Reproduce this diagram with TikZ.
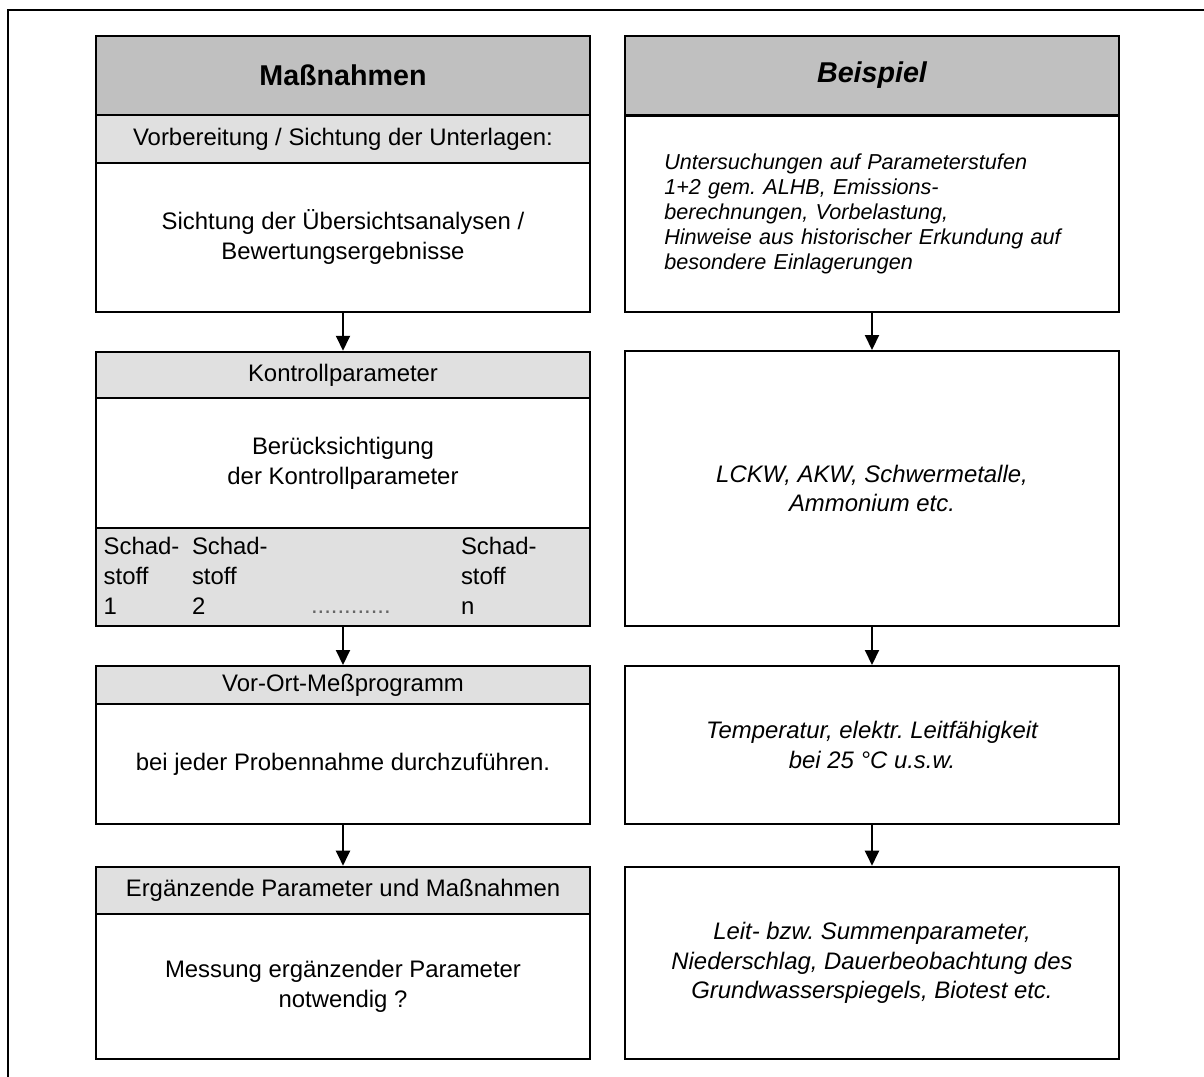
\documentclass[tikz,border=0pt]{standalone}
\usepackage{fontspec}
\setmainfont{Liberation Sans}
\usepackage{tikz}
\usetikzlibrary{arrows.meta}
\definecolor{headgray}{RGB}{192,192,192}
\definecolor{subgray}{RGB}{224,224,224}
\frenchspacing

\begin{document}
\begin{tikzpicture}[x=0.02cm, y=-0.02cm, line width=0.04cm,
        head_style/.style={rectangle,draw,fill=headgray,minimum width=9.87cm,inner sep=0pt,font=\fontsize{16.3}{20}\selectfont\bfseries},
        sub_style/.style={rectangle,draw,fill=subgray,minimum width=9.87cm,inner sep=0pt,font=\fontsize{13.6}{17}\selectfont},
        body_style/.style={rectangle,draw,fill=white,minimum width=9.87cm,inner sep=0pt,align=center,font=\fontsize{13.6}{17}\selectfont},
        example_style/.style={body_style,font=\fontsize{13.6}{16.8}\selectfont\itshape},
        list_style/.style={inner sep=0pt,align=left,anchor=west,font=\fontsize{13.6}{17}\selectfont},
        edge_style/.style={draw=black,line width=0.04cm,-{Triangle[length=0.3cm,width=0.28cm]}},
        frame_style/.style={draw=black,line width=0.04cm}]

        \useasboundingbox (0,0) rectangle (1204,1077);
        \draw [frame_style] (8,1077) -- (8,10) -- (1204,10);

        % left column
        \node [head_style,minimum height=1.59cm](mn_head) at (343,75.5) {Maßnahmen};

        \node [sub_style,minimum height=0.95cm](mn_prep) at (343,139) {Vorbereitung / Sichtung der Unterlagen:};

        \node [body_style,minimum height=2.98cm](mn_view) at (343,237.2) {Sichtung der Übersichtsanalysen /\\Bewertungsergebnisse};

        \node [sub_style,minimum height=0.93cm](kp_head) at (343,375) {Kontrollparameter};

        \node [body_style,minimum height=2.6cm](kp_body) at (343,463.3) {Berücksichtigung\\der Kontrollparameter};

        \node [sub_style,minimum height=1.954cm](kp_list) at (343,577.15) {};

        \node [list_style](st_1) at (102.7,576) {Schad-\\stoff\\1};

        \node [list_style](st_2) at (191,576) {Schad-\\stoff\\2};

        \node [list_style](st_n) at (460,576) {Schad-\\stoff\\n};

        \node [list_style,anchor=base west,text=black!60](st_dots) at (310,613.5) {............};

        \node [sub_style,minimum height=0.766cm](vo_head) at (343,685.15) {Vor-Ort-Meßprogramm};

        \node [body_style,minimum height=2.394cm](vo_body) at (343,764.15) {bei jeder Probennahme durchzuführen.};

        \node [sub_style,minimum height=0.946cm](ep_head) at (343,890.35) {Ergänzende Parameter und Maßnahmen};

        \node [body_style,minimum height=2.906cm](ep_body) at (343,986.65) {Messung ergänzender Parameter\\notwendig ?};

        % right column
        \node [head_style,minimum height=1.59cm,font=\fontsize{16.3}{20}\selectfont\bfseries\itshape](bs_head) at (872,75.5) {Beispiel};

        \node [example_style,minimum height=3.91cm,align=left,text width=8.31cm,inner xsep=0.78cm,font=\fontsize{12.3}{14.2}\selectfont\itshape](bs_prep) at (872,213.85) {Untersuchungen auf Parameterstufen\\1+2 gem. ALHB, Emissions-\\berechnungen, Vorbelastung,\\Hinweise aus historischer Erkundung auf\\besondere Einlagerungen};

        \node [example_style,minimum height=5.5cm](lk_box) at (872,488.5) {LCKW, AKW, Schwermetalle,\\Ammonium etc.};

        \node [example_style,minimum height=3.16cm](tp_box) at (872,745) {Temperatur, elektr. Leitfähigkeit\\bei 25 °C u.s.w.};

        \node [example_style,minimum height=3.852cm](ls_box) at (872,963) {Leit- bzw. Summenparameter,\\Niederschlag, Dauerbeobachtung des\\Grundwasserspiegels, Biotest etc.};

        \draw [edge_style] (mn_view) -- (kp_head);

        \draw [edge_style] (kp_list) -- (vo_head);

        \draw [edge_style] (vo_body) -- (ep_head);

        \draw [edge_style] (bs_prep) -- (lk_box);

        \draw [edge_style] (lk_box) -- (tp_box);

        \draw [edge_style] (tp_box) -- (ls_box);

        \end{tikzpicture}
\end{document}
